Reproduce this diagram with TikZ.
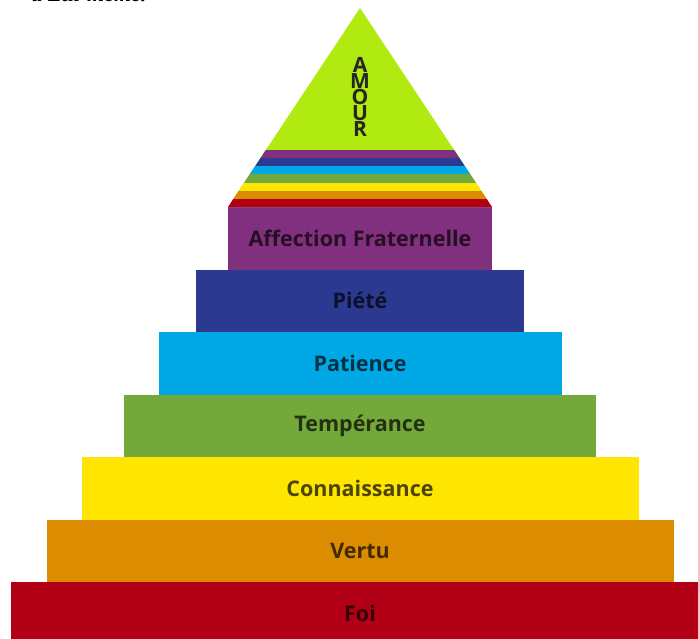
\documentclass[tikz,border=0pt]{standalone}
\usepackage{fontspec}
\setmainfont{Open Sans}
\newfontfamily\leadfont{Liberation Serif}
\usetikzlibrary{positioning}
\definecolor{amourgreen}{HTML}{B0EA10}
\definecolor{affpurple}{HTML}{80307F}
\definecolor{pietyblue}{HTML}{2B3990}
\definecolor{patcyan}{HTML}{00A8E6}
\definecolor{tempgreen}{HTML}{73A83A}
\definecolor{connyellow}{HTML}{FFE600}
\definecolor{vertuorange}{HTML}{DC8C00}
\definecolor{foired}{HTML}{B10016}

\begin{document}
\begin{tikzpicture}
    [x=1pt,y=-1pt,node distance=0pt,
     stepbox/.style={rectangle,outer sep=0pt,inner sep=0pt,minimum height=62.5pt,
       font=\fontsize{21.5}{24}\selectfont\bfseries,text=black,text opacity=0.7},
     amourletter/.style={inner sep=0pt,font=\fontsize{21}{21}\selectfont\bfseries,text=black!85}]
    \useasboundingbox (0,0) rectangle (698,638);
    \clip (0,0) rectangle (698,638);
    % the steps, from the bottom up
    \node[stepbox,fill=foired,minimum width=698pt,minimum height=63pt] (foi) at (360,613.5) {Foi};
    \node[stepbox,fill=vertuorange,minimum width=627pt] (vertu) [above=of foi] {Vertu};
    \node[stepbox,fill=connyellow,minimum width=557pt] (conn) [above=of vertu] {Connaissance};
    \node[stepbox,fill=tempgreen,minimum width=472pt] (temp) [above=of conn] {Tempérance};
    \node[stepbox,fill=patcyan,minimum width=403pt] (pat) [above=of temp] {Patience};
    \node[stepbox,fill=pietyblue,minimum width=328pt] (piete) [above=of pat] {Piété};
    \node[stepbox,fill=affpurple,minimum width=264pt] (aff) [above=of piete] {Affection Fraternelle};
    % the top
    \coordinate (apex) at (360,8);
    \fill[amourgreen] (apex) -- (aff.north west) -- (aff.north east) -- cycle;
    \begin{scope}
        \clip (apex) -- (aff.north west) -- (aff.north east) -- cycle;
        \foreach \c [count=\i] in {affpurple,pietyblue,patcyan,tempgreen,connyellow,vertuorange,foired}
            \fill[\c] (200,{150+(\i-1)*8.143}) rectangle (520,{150+\i*8.143});
    \end{scope}
    \foreach \l [count=\i] in {A,M,O,U,R}
        \node[amourletter] (amour\i) at (360,{64.5+(\i-1)*16.2}) {\l};
    \node[font=\leadfont\bfseries\itshape\fontsize{22}{24}\selectfont,anchor=base east] (lead) at (150,1) {à Lui-même.};
\end{tikzpicture}
\end{document}
